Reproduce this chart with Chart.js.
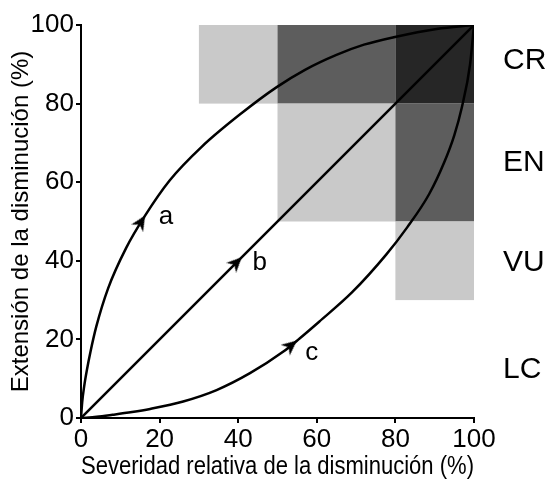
<!DOCTYPE html>
<html>
<head>
<meta charset="utf-8">
<script src="https://cdn.jsdelivr.net/npm/chart.js@4/dist/chart.umd.min.js"></script>
<style>
  html, body { margin: 0; padding: 0; background: #fff; }
  #wrap { width: 547px; height: 482px; }
</style>
</head>
<body>
<div id="wrap"><canvas id="chart"></canvas></div>
<script>
// curve a (concave), b (straight), c (convex)
const curveA_x = [0, 0.3, 0.8, 1.5, 2.4, 3.9, 6.9, 11.5, 16.3, 22.6, 30.7, 40.9, 49.8, 57, 65, 72, 79.6, 90.5, 100]
const curveA_y = [0, 4, 8, 12.2, 16.8, 23.3, 33, 43.3, 51.5, 60.5, 69, 77.6, 84.2, 88.6, 92.4, 95, 96.9, 99, 100]
const curveB_x = [0, 100]
const curveB_y = [0, 100]
const curveC_x = [0, 4, 8, 13, 17.6, 26, 34.5, 43, 51.5, 55.7, 60.6, 69, 77.6, 83, 88.6, 92.4, 95, 96.9, 99, 100]
const curveC_y = [0, 0.3, 0.8, 1.5, 2.3, 4.2, 7.1, 11.4, 16.9, 20.3, 24.5, 32, 41.5, 48.5, 57, 65, 72, 79, 90, 100]

// arrow heads along the curves (tip position and direction in degrees)
const arrowX = [16.3, 40.9, 54.9]
const arrowY = [51.5, 40.9, 19.7]
const arrowDir = [58, 45, 40]

const curveNames = ['a', 'b', 'c']
const nameX = [21.6, 45.5, 58.7]
const nameY = [51.2, 39.4, 16.5]

// category zones: x range, y range, shade level (1 light .. 3 dark)
const zoneX0 = [30, 50, 80, 50, 80, 80]
const zoneX1 = [50, 80, 100, 80, 100, 100]
const zoneY0 = [80, 80, 80, 50, 50, 30]
const zoneY1 = [100, 100, 100, 80, 80, 50]
const zoneLevel = [1, 2, 3, 1, 2, 1]

const categories = ['CR', 'EN', 'VU', 'LC']
const categoryY = [91, 65, 39.4, 12.2]

const xTicks = [0, 20, 40, 60, 80, 100]
const yTicks = [0, 20, 40, 60, 80, 100]

const FONT = "'Liberation Sans Narrow', 'Arial Narrow', 'Liberation Sans', Arial, sans-serif"
const shades = { 1: '#c9c9c9', 2: '#5d5d5d', 3: '#262626' }

function pts(xs, ys) {
  return xs.map((x, i) => ({ x: x, y: ys[i] }))
}

// arrow head image, tip at the centre, pointing right
function arrowHead() {
  const c = document.createElement('canvas')
  c.width = 32
  c.height = 32
  const g = c.getContext('2d')
  g.fillStyle = '#000'
  g.beginPath()
  g.moveTo(16, 16)
  g.lineTo(1, 9)
  g.lineTo(5.5, 16)
  g.lineTo(1, 23)
  g.closePath()
  g.fill()
  return c
}

const zonesPlugin = {
  id: 'zones',
  beforeDatasetsDraw(chart) {
    const { ctx, scales: { x, y } } = chart
    ctx.save()
    zoneX0.forEach((x0, i) => {
      const left = x.getPixelForValue(x0)
      const right = x.getPixelForValue(zoneX1[i])
      const top = y.getPixelForValue(zoneY1[i])
      const bottom = y.getPixelForValue(zoneY0[i])
      ctx.fillStyle = shades[zoneLevel[i]]
      ctx.fillRect(left, top, right - left, bottom - top)
    })
    ctx.restore()
  }
}

const labelsPlugin = {
  id: 'labels',
  afterDatasetsDraw(chart) {
    const { ctx, chartArea, scales: { x, y } } = chart
    ctx.save()
    ctx.fillStyle = '#000'
    ctx.textBaseline = 'middle'
    ctx.textAlign = 'center'
    ctx.font = '26px ' + FONT
    curveNames.forEach((n, i) => {
      ctx.fillText(n, x.getPixelForValue(nameX[i]), y.getPixelForValue(nameY[i]))
    })
    ctx.textAlign = 'left'
    ctx.font = '30px ' + FONT
    categories.forEach((c, i) => {
      ctx.fillText(c, chartArea.right + 29, y.getPixelForValue(categoryY[i]))
    })
    ctx.restore()
  }
}

const curveStyle = {
  borderColor: '#000',
  borderWidth: 2.5,
  pointRadius: 0,
  showLine: true,
  fill: false,
  cubicInterpolationMode: 'monotone'
}

new Chart(document.getElementById('chart'), {
  type: 'scatter',
  data: {
    datasets: [
      { ...curveStyle, label: 'a', data: pts(curveA_x, curveA_y) },
      { ...curveStyle, label: 'b', data: pts(curveB_x, curveB_y) },
      { ...curveStyle, label: 'c', data: pts(curveC_x, curveC_y) },
      {
        label: 'arrows',
        data: pts(arrowX, arrowY),
        pointStyle: arrowHead(),
        pointRotation: arrowDir.map(d => -d),
        pointRadius: 10,
        showLine: false
      }
    ]
  },
  options: {
    responsive: true,
    maintainAspectRatio: false,
    animation: false,
    layout: {
      padding: { top: 25, right: 73, left: 0, bottom: 0 }
    },
    plugins: {
      legend: { display: false },
      tooltip: { enabled: false }
    },
    scales: {
      x: {
        type: 'linear',
        min: 0,
        max: 100,
        afterBuildTicks: axis => { axis.ticks = xTicks.map(v => ({ value: v })) },
        afterFit: axis => { axis.height = 64 },
        border: { color: '#000', width: 2 },
        grid: { drawOnChartArea: false, drawTicks: true, tickLength: 5, color: '#000', lineWidth: 2 },
        ticks: { color: '#000', padding: 1, font: { family: FONT, size: 26 } },
        title: {
          display: true,
          text: 'Severidad relativa de la disminución (%)',
          color: '#000',
          padding: { top: 0, bottom: 0 },
          font: { family: FONT, size: 26 }
        }
      },
      y: {
        type: 'linear',
        min: 0,
        max: 100,
        afterBuildTicks: axis => { axis.ticks = yTicks.map(v => ({ value: v })) },
        afterFit: axis => { axis.width = 81 },
        border: { color: '#000', width: 2 },
        grid: { drawOnChartArea: false, drawTicks: true, tickLength: 5, color: '#000', lineWidth: 2 },
        ticks: { color: '#000', padding: 2, font: { family: FONT, size: 26 } },
        title: {
          display: true,
          text: 'Extensión de la disminución (%)',
          color: '#000',
          padding: { top: 7, bottom: 0 },
          font: { family: FONT, size: 24 }
        }
      }
    }
  },
  plugins: [zonesPlugin, labelsPlugin]
})
</script>
</body>
</html>
